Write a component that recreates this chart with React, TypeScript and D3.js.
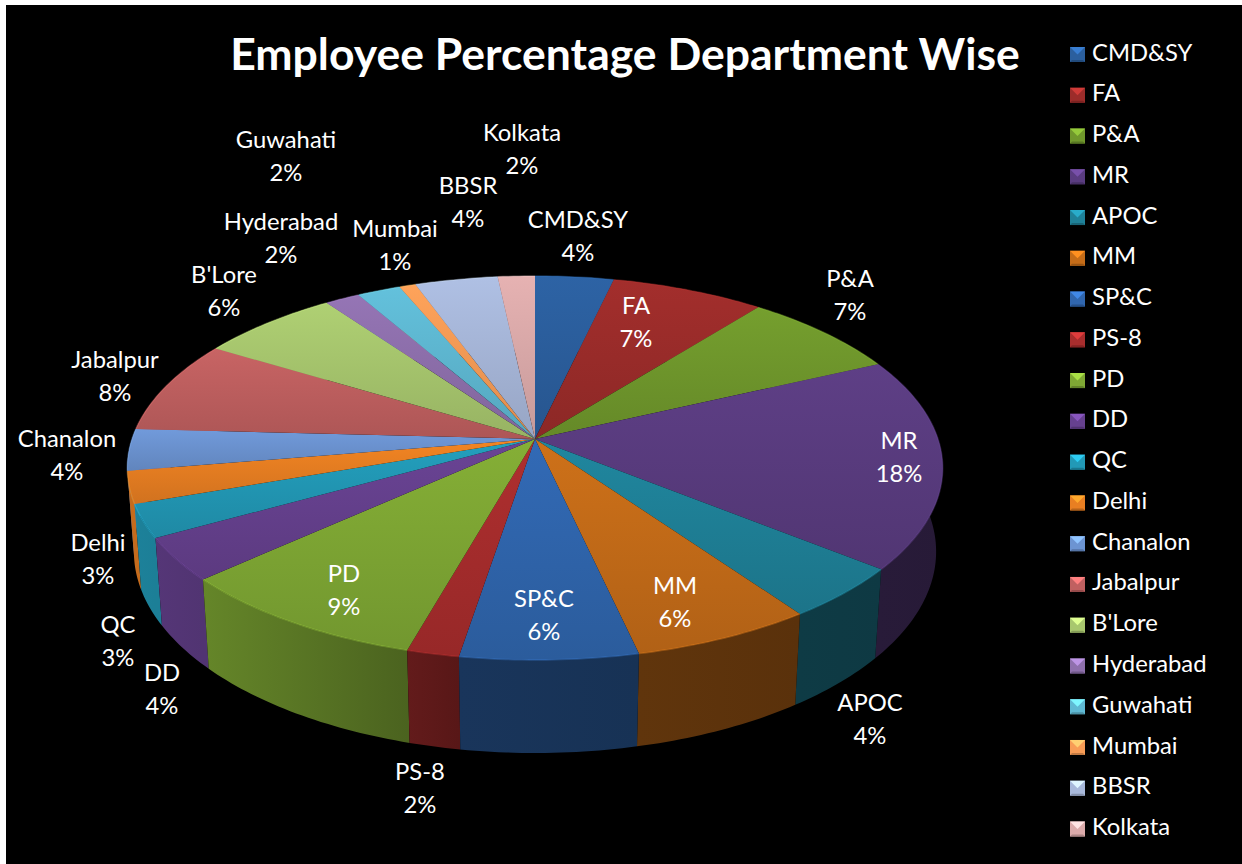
import React from "react";
import * as d3 from "d3";

const departments = ["CMD&SY", "FA", "P&A", "MR", "APOC", "MM", "SP&C", "PS-8", "PD", "DD", "QC", "Delhi", "Chanalon", "Jabalpur", "B'Lore", "Hyderabad", "Guwahati", "Mumbai", "BBSR", "Kolkata"];
const shares = [3.6, 7.04, 7.4, 17.8, 4.4, 6.25, 6.1, 1.8, 8.9, 3.6, 2.8, 2.7, 3.5, 7.85, 6.45, 1.6, 2.0, 0.75, 3.8, 1.7];
const colours = ["#2b5f9e", "#9c2c2a", "#70982c", "#5a3c80", "#1f8198", "#c56c18", "#3066ae", "#a82d2d", "#7fa834", "#66418f", "#2299b6", "#e97f22", "#6c94d2", "#c06060", "#a8c76e", "#8f70ad", "#5fb9d3", "#f89c56", "#a8b8da", "#dcabab"];

// where each data label sits, as x and the middle of its first line
const labelSpots = [[578, 222], [636, 308], [850, 281], [899, 443], [870, 705], [675, 588], [544, 601], [420, 774], [344, 576], [162, 675], [118, 627], [98, 545], [67, 441], [115, 362], [224, 277], [281, 224], [286, 142], [395, 231], [468, 188], [522, 135]];

const width = 1242;
const height = 864;
const font = "Lato, Calibri, sans-serif";

// perspective disc: centre, half axes, tilt, then the drop of the lower rim
const cx = 535;
const cy = 439;
const rx = 403;
const ry = 187.6;
const tilt = 0.151;
const drop = 84;
const dropScale = 0.016;

const project = (angle: number, z: number): [number, number] => {
  const u = Math.sin(angle);
  const v = -Math.cos(angle);
  const w = 1 - tilt * v + dropScale * z;
  return [cx + (rx * u) / w, cy + (ry * v + drop * z) / w];
};

const rim = (start: number, end: number, z: number) => {
  const steps = Math.max(2, Math.ceil((end - start) * 60));
  return d3.range(steps + 1).map((i) => project(start + ((end - start) * i) / steps, z));
};

const poly = d3.line().curve(d3.curveLinearClosed);
const open = d3.line();

const wallShade = d3.scaleLinear().domain([127, 300, 460, 942]).range([0.85, 0.73, 0.52, 0.43]);
const shaded = (c: string, k: number) => {
  const rgb = d3.rgb(c);
  return d3.rgb(rgb.r * k, rgb.g * k, rgb.b * k).formatHex();
};

export default function App() {
  const arcs = d3.pie<number>().sort(null)(shares);
  const legendY = d3.scalePoint<string>().domain(departments).range([54.5, 829]);

  /* Walls go back to front so the near ones cover the far ones */
  const midCos = (d: d3.PieArcDatum<number>) => Math.cos((d.startAngle + d.endAngle) / 2);
  const wallOrder = [...arcs].sort((a, b) => midCos(b) - midCos(a));

  return (
    <svg width={width} height={height} style={{ position: "absolute", left: 0, top: 0, background: "#fff" }}>
      <defs>
        {arcs.map((d, i) => (
          <linearGradient key={i} id={`top${i}`} x1="0" y1="0" x2="0" y2="1">
            <stop offset="0" stopColor={d3.rgb(colours[i]).brighter(0.12).formatHex()} />
            <stop offset="1" stopColor={d3.rgb(colours[i]).darker(0.3).formatHex()} />
          </linearGradient>
        ))}
        {arcs.map((d, i) => {
          const xs = rim(d.startAngle, d.endAngle, 0).map((p) => p[0]);
          const [x0, x1] = d3.extent(xs) as [number, number];
          return (
            <linearGradient key={i} id={`wall${i}`} gradientUnits="userSpaceOnUse" x1={x0} y1="0" x2={Math.max(x1, x0 + 1)} y2="0">
              <stop offset="0" stopColor={shaded(colours[i], wallShade(x0))} />
              <stop offset="1" stopColor={shaded(colours[i], wallShade(x1))} />
            </linearGradient>
          );
        })}
      </defs>

      <rect x={6} y={5} width={1236} height={859} fill="#000" />

      <g>
        {wallOrder.map((d) => (
          <path
            key={d.index}
            d={poly([...rim(d.startAngle, d.endAngle, 0), ...rim(d.startAngle, d.endAngle, 1).reverse()]) as string}
            fill={`url(#wall${d.index})`}
          />
        ))}
      </g>

      <g>
        {arcs.map((d, i) => (
          <path
            key={i}
            d={poly([[cx, cy], ...rim(d.startAngle, d.endAngle, 0)]) as string}
            fill={`url(#top${i})`}
          />
        ))}
        {arcs.map((d, i) => (
          <path
            key={i}
            d={open(rim(d.startAngle, d.endAngle, 0)) as string}
            fill="none"
            stroke={d3.rgb(colours[i]).brighter(0.7).formatHex()}
            strokeOpacity={0.35}
            strokeWidth={1.5}
          />
        ))}
      </g>

      <text x={625} y={59} textAnchor="middle" dominantBaseline="middle" fontFamily={font} fontWeight={700} fontSize={44.5} fill="#fff">
        Employee Percentage Department Wise
      </text>

      <g fontFamily={font} fontSize={23.8} fill="#fff" textAnchor="middle">
        {arcs.map((d, i) => (
          <text key={i} x={labelSpots[i][0]} y={labelSpots[i][1]} dominantBaseline="middle">
            <tspan x={labelSpots[i][0]}>{departments[i]}</tspan>
            <tspan x={labelSpots[i][0]} dy={33}>{`${Math.round(d.data)}%`}</tspan>
          </text>
        ))}
      </g>

      <g fontFamily={font}>
        {departments.map((name, i) => {
          const y = legendY(name) as number;
          const s = 7.5;
          const x = 1077.5;
          return (
            <g key={name}>
              <rect x={x - s} y={y - s} width={2 * s} height={2 * s} fill={colours[i]} />
              <path d={poly([[x - s, y - s], [x + s, y - s], [x, y]]) as string} fill={d3.rgb(colours[i]).brighter(0.8).formatHex()} />
              <path d={poly([[x - s, y + s], [x + s, y + s], [x + s - 2, y + s - 2], [x - s + 2, y + s - 2]]) as string} fill={d3.rgb(colours[i]).darker(0.7).formatHex()} />
              <text x={1092} y={y} dominantBaseline="middle" fontSize={23.8} fill="#fff">
                {name}
              </text>
            </g>
          );
        })}
      </g>
    </svg>
  );
}
